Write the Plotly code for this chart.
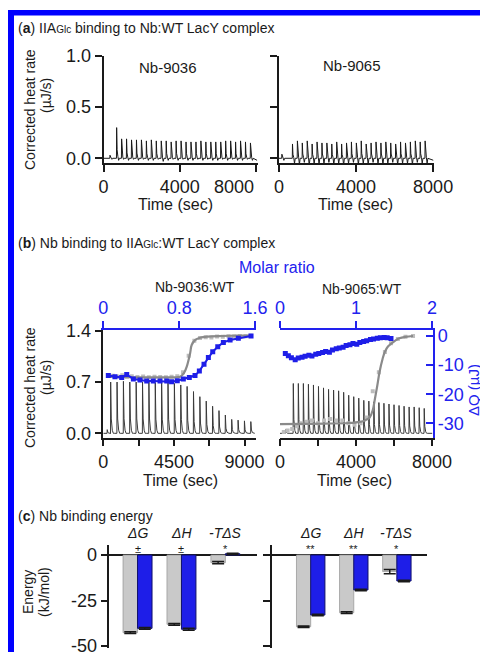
import plotly.graph_objects as go

OFF = 8            # page body margin of the html page
W, H = 488, 652
FONT = "Liberation Sans, Arial, Helvetica, sans-serif"
BLK = "#1a1a1a"
BLUE = "#1e1ee8"
AXBLUE = "#2222ee"
GRAYPT = "#bdbdbd"
GRAYFIT = "#8a8a8a"
TICK = 18

# ---------------- data ----------------
# (a) IIAGlc injections into Nb:WT LacY complex: injection time (s), peak (uJ/s), post-peak dip (uJ/s)
a_l_time = [340, 690, 950, 1210, 1470, 1730, 1990, 2250, 2510, 2770, 3030, 3290, 3550, 3810, 4070,
            4330, 4590, 4850, 5110, 5370, 5630, 5890, 6150, 6410, 6670, 6930, 7190, 7450, 7710]
a_l_peak = [0.03, 0.30, 0.19, 0.19, 0.18, 0.18, 0.18, 0.17, 0.18, 0.17, 0.17, 0.17, 0.16, 0.17, 0.17,
            0.16, 0.16, 0.16, 0.17, 0.16, 0.16, 0.16, 0.16, 0.17, 0.17, 0.16, 0.17, 0.16, 0.15]
a_l_dip = [-0.01, -0.02, -0.01, -0.02, -0.01, -0.02, -0.01, -0.02, -0.02, -0.01, -0.03, -0.02, -0.01, -0.02, -0.01,
           -0.02, -0.02, -0.01, -0.02, -0.01, -0.02, -0.02, -0.01, -0.02, -0.01, -0.02, -0.02, -0.01, -0.02]
a_r_time = [150, 700, 955, 1210, 1465, 1720, 1975, 2230, 2485, 2740, 2995, 3250, 3505, 3760, 4015,
            4270, 4525, 4780, 5035, 5290, 5545, 5800, 6055, 6310, 6565, 6820, 7075, 7330, 7585]
a_r_peak = [0.04, 0.14, 0.17, 0.15, 0.17, 0.14, 0.16, 0.15, 0.15, 0.14, 0.16, 0.14, 0.15, 0.16, 0.15,
            0.17, 0.14, 0.15, 0.16, 0.15, 0.16, 0.15, 0.14, 0.16, 0.15, 0.16, 0.17, 0.16, 0.17]
a_r_dip = [-0.02, -0.05, -0.06, -0.04, -0.07, -0.05, -0.06, -0.05, -0.04, -0.06, -0.05, -0.07, -0.05, -0.04, -0.06,
           -0.05, -0.06, -0.04, -0.05, -0.06, -0.05, -0.04, -0.06, -0.05, -0.05, -0.06, -0.04, -0.05, -0.05]
a_x_ticks = [0, 4000, 8000]
a_x_ticktext_left = ["0", "4000", ""]      # last label is set beside its tick (shifted left) below
a_x_last_label = "8000"
a_x_ticktext_right = ["0", "4000", "8000"]

# (b) Nb injections into IIAGlc:WT LacY complex
b_l_time = [250, 470, 876, 1282, 1688, 2094, 2500, 2906, 3312, 3718, 4124, 4530, 4936, 5342, 5748,
            6154, 6560, 6966, 7372, 7778, 8184, 8590, 8996, 9402]
b_l_peak = [0.05, 0.70, 0.70, 0.71, 0.70, 0.70, 0.70, 0.70, 0.69, 0.69, 0.69, 0.68, 0.66, 0.64, 0.57,
            0.50, 0.44, 0.37, 0.31, 0.25, 0.19, 0.18, 0.17, 0.16]
b_r_time = [300, 700, 965, 1230, 1495, 1760, 2025, 2290, 2555, 2820, 3085, 3350, 3615, 3880, 4145,
            4410, 4675, 4940, 5205, 5470, 5735, 6000, 6265, 6530, 6795, 7060, 7325, 7590]
b_r_peak = [0.05, 0.68, 0.68, 0.68, 0.67, 0.66, 0.64, 0.62, 0.60, 0.59, 0.58, 0.56, 0.52, 0.50, 0.48,
            0.45, 0.44, 0.43, 0.42, 0.41, 0.40, 0.39, 0.38, 0.37, 0.36, 0.36, 0.35, 0.34]

# integrated heats vs molar ratio (Nb-9036:WT)
b_l_mr_blue = [0.053, 0.123, 0.194, 0.247, 0.317, 0.387, 0.458, 0.527, 0.598, 0.669, 0.72, 0.78,
               0.844, 0.907, 0.967, 1.013, 1.062, 1.108, 1.154, 1.207, 1.266, 1.337, 1.424, 1.558]
b_l_dq_blue = [-13.6, -14.0, -14.3, -13.2, -14.8, -15.1, -15.5, -15.5, -15.5, -15.5, -15.7, -15.4,
               -14.8, -14.3, -13.6, -12.0, -9.7, -7.4, -5.4, -3.7, -2.2, -1.4, -0.8, 0.0]
b_l_mr_gray = [0.05, 0.1, 0.15, 0.2, 0.25, 0.3, 0.36, 0.42, 0.48, 0.54, 0.6, 0.66, 0.72, 0.78,
               0.84, 0.9, 0.96, 1.02, 1.08, 1.14, 1.2, 1.26, 1.32, 1.38, 1.44, 1.5, 1.55]
b_l_dq_gray = [-13.4, -13.7, -13.9, -13.5, -14.0, -13.8, -14.1, -13.9, -14.2, -14.0, -14.1, -14.2, -14.0, -13.8,
               -12.5, -6.8, -1.6, -0.7, -0.4, -0.5, -0.2, -0.3, -0.1, -0.2, 0.0, -0.1, 0.1]
b_l_mr_fit = [0.04, 0.2, 0.4, 0.6, 0.75, 0.81, 0.85, 0.88, 0.915, 0.932, 0.967, 1.02, 1.1, 1.25, 1.4, 1.55]
b_l_dq_fit = [-14.0, -14.1, -14.2, -14.2, -14.2, -14.0, -12.8, -10.5, -6.0, -3.1, -1.4, -0.6, -0.2, 0.0, 0.1, 0.1]

# integrated heats vs molar ratio (Nb-9065:WT)
b_r_mr_blue = [0.07, 0.11, 0.15, 0.2, 0.24, 0.29, 0.33, 0.38, 0.42, 0.47, 0.51, 0.56, 0.6, 0.65, 0.69, 0.74,
               0.78, 0.83, 0.87, 0.92, 0.96, 1.01, 1.05, 1.1, 1.14, 1.19, 1.23, 1.28, 1.32, 1.37, 1.41, 1.46]
b_r_dq_blue = [-6.0, -6.8, -7.5, -8.2, -7.6, -7.3, -7.0, -6.6, -6.9, -6.3, -6.0, -5.7, -5.3, -5.6, -4.8, -4.4,
               -4.1, -3.9, -3.3, -3.0, -2.6, -2.8, -2.2, -1.9, -1.6, -1.2, -1.0, -0.8, -0.6, -0.5, -0.6, -0.9]
b_r_mr_gray = [0.05, 0.1, 0.16, 0.22, 0.28, 0.35, 0.42, 0.5, 0.58, 0.66, 0.74, 0.82, 0.9, 0.98, 1.06,
               1.14, 1.22, 1.3, 1.38, 1.46, 1.55, 1.65, 1.75]
b_r_dq_gray = [-33.0, -32.5, -32.0, -31.0, -30.0, -29.5, -29.0, -30.0, -29.0, -28.5, -29.0, -29.0, -30.0, -30.5, -30.0,
               -28.0, -19.0, -12.5, -5.5, -2.5, -1.0, -0.3, 0.0]
b_r_mr_fit = [0.0, 0.3, 0.6, 0.9, 1.05, 1.12, 1.18, 1.22, 1.25, 1.28, 1.31, 1.35, 1.38, 1.42, 1.47, 1.52, 1.57, 1.65, 1.75]
b_r_dq_fit = [-30.3, -30.2, -30.1, -29.9, -29.5, -29.0, -28.0, -25.5, -21.4, -17.0, -12.3, -7.8, -5.4, -3.6, -2.5,
              -1.5, -0.8, -0.3, 0.0]

# (c) binding energies (kJ/mol)
c_terms = ["ΔG", "ΔH", "-TΔS"]
c_term_labels = ["<i>ΔG</i>", "<i>ΔH</i>", "<i>-TΔS</i>"]
c_l_gray = [-42.7, -38.1, -4.2]
c_l_blue = [-40.3, -40.8, 0.7]
c_l_gray_err = [0.5, 0.5, 0.6]
c_l_blue_err = [0.5, 0.5, 0.3]
c_l_sig = ["±", "±", "*"]
c_r_gray = [-39.4, -31.7, -9.1]
c_r_blue = [-33.0, -19.2, -14.3]
c_r_gray_err = [0.4, 0.5, 1.2]
c_r_blue_err = [0.4, 0.4, 0.4]
c_r_sig = ["**", "**", "*"]


# ---------------- helpers ----------------
def X(p):
    return (p - OFF) / W


def Y(p):
    return 1 - (p - OFF) / H


def thermogram(times, peaks, dips=None, t_end=8000.0, end_val=0.0, tail=1.0):
    xs, ys = [0.0], [0.0]
    if dips is None:
        dips = [0.0] * len(times)
    for t, h, d in zip(times, peaks, dips):
        xs += [t - 10, t, t + 30 * tail, t + 80 * tail, t + 130 * tail, t + 180 * tail]
        ys += [0.0, h, 0.28 * h, 0.06 * h, d, 0.0]
    xs.append(t_end)
    ys.append(end_val)
    return xs, ys


def ax(**kw):
    d = dict(showline=True, linecolor=BLK, linewidth=1.5, ticks="outside", ticklen=7, tickwidth=1.5,
             tickcolor=BLK, showgrid=False, zeroline=False, automargin=False,
             tickfont=dict(size=TICK, color=BLK, family=FONT))
    d.update(kw)
    return d


fig = go.Figure()

# ---- panel a ----
xs, ys = thermogram(a_l_time, a_l_peak, a_l_dip, t_end=8060, end_val=-0.02, tail=0.8)
fig.add_trace(go.Scatter(x=xs, y=ys, mode="lines", line=dict(color=BLK, width=1), xaxis="x", yaxis="y"))
xs, ys = thermogram(a_r_time, a_r_peak, a_r_dip, t_end=8020, end_val=-0.02, tail=0.8)
fig.add_trace(go.Scatter(x=xs, y=ys, mode="lines", line=dict(color=BLK, width=1), xaxis="x2", yaxis="y2"))

# ---- panel b ----
xs, ys = thermogram(b_l_time, b_l_peak, t_end=9650, tail=1.3)
fig.add_trace(go.Scatter(x=xs, y=ys, mode="lines", line=dict(color="#3a3a3a", width=1), xaxis="x3", yaxis="y3"))
xs, ys = thermogram(b_r_time, b_r_peak, t_end=8020, tail=1.0)
fig.add_trace(go.Scatter(x=xs, y=ys, mode="lines", line=dict(color="#3a3a3a", width=1), xaxis="x5", yaxis="y5"))

for (mg, dg, mf, df, mb, db, xa, ya) in [
    (b_l_mr_gray, b_l_dq_gray, b_l_mr_fit, b_l_dq_fit, b_l_mr_blue, b_l_dq_blue, "x4", "y4"),
    (b_r_mr_gray, b_r_dq_gray, b_r_mr_fit, b_r_dq_fit, b_r_mr_blue, b_r_dq_blue, "x6", "y6"),
]:
    fig.add_trace(go.Scatter(x=mg, y=dg, mode="markers", marker=dict(symbol="square", size=4, color=GRAYPT),
                             xaxis=xa, yaxis=ya))
    fig.add_trace(go.Scatter(x=mf, y=df, mode="lines", line=dict(color=GRAYFIT, width=2.2, shape="spline"),
                             xaxis=xa, yaxis=ya))
    fig.add_trace(go.Scatter(x=mb, y=db, mode="lines+markers", line=dict(color=BLUE, width=2),
                             marker=dict(symbol="square", size=5, color=BLUE), xaxis=xa, yaxis=ya))

# ---- panel c ----
for (g, b, ge, be, xa, ya) in [(c_l_gray, c_l_blue, c_l_gray_err, c_l_blue_err, "x7", "y7"),
                               (c_r_gray, c_r_blue, c_r_gray_err, c_r_blue_err, "x8", "y8")]:
    fig.add_trace(go.Bar(x=c_terms, y=g, marker=dict(color="#c9c9c9", line=dict(color="#9a9a9a", width=0.8)),
                         error_y=dict(type="data", array=ge, color=BLK, thickness=1.5, width=6),
                         xaxis=xa, yaxis=ya, offsetgroup="g"))
    fig.add_trace(go.Bar(x=c_terms, y=b, marker=dict(color=BLUE, line=dict(color="#10106a", width=1)),
                         error_y=dict(type="data", array=be, color=BLK, thickness=1.5, width=6),
                         xaxis=xa, yaxis=ya, offsetgroup="b"))

# ---------------- axes ----------------
dom_a = [Y(163), Y(56)]
dom_b = [Y(437.5), Y(330)]
dom_c = [Y(648), Y(545)]
heat_rng = [-0.057, 1.41]
dq_rng = [-34.88, 2.06]
c_rng = [-51.1, 5.5]
blue_font = dict(size=TICK, color=AXBLUE, family=FONT)

layout_axes = dict(
    xaxis=ax(domain=[X(103.5), X(257.5)], range=[0, 8080], tickvals=a_x_ticks, ticktext=a_x_ticktext_left,
             anchor="y"),
    yaxis=ax(domain=dom_a, range=[-0.046, 1.0], tickvals=[0, 0.5, 1.0], ticktext=["0.0", "0.5", "1.0"], anchor="x"),
    xaxis2=ax(domain=[X(279), X(433.5)], range=[0, 8020], tickvals=a_x_ticks, ticktext=a_x_ticktext_right,
              anchor="y2"),
    yaxis2=ax(domain=dom_a, range=[-0.046, 1.0], tickvals=[0, 0.5, 1.0], showticklabels=False, anchor="x2"),

    xaxis3=ax(domain=[X(103.3), X(255.5)], range=[0, 9700], tickvals=[0, 2250, 4500, 6750, 9000],
              ticktext=["0", "", "4500", "", "9000"], anchor="y3"),
    yaxis3=ax(domain=dom_b, range=heat_rng, tickvals=[0, 0.7, 1.4], ticktext=["0.0", "0.7", "1.4"], anchor="x3"),
    xaxis4=ax(overlaying="x3", side="top", anchor="y3", range=[0, 1.605], tickvals=[0, 0.8, 1.6],
              ticktext=["0", "0.8", "1.6"], linecolor=AXBLUE, tickcolor=AXBLUE, tickfont=blue_font),
    yaxis4=dict(overlaying="y3", anchor="x3", range=dq_rng, visible=False),

    xaxis5=ax(domain=[X(280), X(432.5)], range=[0, 8026], tickvals=[0, 2000, 4000, 6000, 8000],
              ticktext=["0", "", "4000", "", "8000"], anchor="y5"),
    yaxis5=dict(domain=dom_b, range=heat_rng, visible=False, anchor="x5"),
    xaxis6=ax(overlaying="x5", side="top", anchor="y5", range=[0, 2.006], tickvals=[0, 1, 2],
              ticktext=["0", "1", "2"], linecolor=AXBLUE, tickcolor=AXBLUE, tickfont=blue_font),
    yaxis6=ax(overlaying="y5", side="right", anchor="x5", range=dq_rng, tickvals=[0, -10, -20, -30],
              ticktext=["0", "-10", "-20", "-30"], ticks="inside", linecolor=AXBLUE, tickcolor=AXBLUE,
              tickfont=blue_font),

    xaxis7=dict(domain=[X(109.3), X(257)], range=[-0.643, 2.72], visible=False, anchor="y7", type="category"),
    yaxis7=ax(domain=dom_c, range=c_rng, tickvals=[0, -25, -50], ticktext=["0", "-25", "-50"], anchor="x7",
              zeroline=True, zerolinecolor=BLK, zerolinewidth=1.5),
    xaxis8=dict(domain=[X(271.5), X(427)], range=[-0.91, 2.70], visible=False, anchor="y8", type="category"),
    yaxis8=ax(domain=dom_c, range=c_rng, tickvals=[0, -25, -50], showticklabels=False, anchor="x8",
              zeroline=True, zerolinecolor=BLK, zerolinewidth=1.5),
)

# ---------------- annotations ----------------
ann = []


def txt(x, y, s, size=15, color=BLK, angle=0, xanchor="center"):
    ann.append(dict(x=X(x), y=Y(y), xref="paper", yref="paper", text=s, showarrow=False, textangle=angle,
                    xanchor=xanchor, yanchor="middle", font=dict(size=size, color=color, family=FONT)))


sm = "<span style='font-size:10px'>Glc</span>"
txt(16, 28, "(<b>a</b>) IIA" + sm + " binding to Nb:WT LacY complex", size=14, xanchor="left")
txt(16, 243, "(<b>b</b>) Nb binding to IIA" + sm + ":WT LacY complex", size=14, xanchor="left")
txt(16, 516, "(<b>c</b>) Nb binding energy", size=14, xanchor="left")

txt(30, 110, "Corrected heat rate", size=14, angle=-90)
txt(46, 96, "(µJ/s)", size=14, angle=-90)
txt(30, 388, "Corrected heat rate", size=14, angle=-90)
txt(46, 378, "(µJ/s)", size=14, angle=-90)
txt(28, 592, "Energy", size=14, angle=-90)
txt(44, 592, "(kJ/mol)", size=14, angle=-90)

# last tick label of panel (a) left, drawn just left of its tick as in the original
ann.append(dict(x=8000, y=Y(187), xref="x", yref="paper", text=a_x_last_label, showarrow=False,
                xanchor="right", yanchor="middle", font=dict(size=TICK, color=BLK, family=FONT)))

txt(175, 205, "Time (sec)", size=16)
txt(355, 205, "Time (sec)", size=16)
txt(180, 480, "Time (sec)", size=16)
txt(354, 480, "Time (sec)", size=16)

txt(168, 67, "Nb-9036", size=15)
txt(352, 65, "Nb-9065", size=15)
txt(277, 268, "Molar ratio", size=16, color=AXBLUE)
txt(195, 287, "Nb-9036:WT", size=14)
txt(362, 289, "Nb-9065:WT", size=14)
txt(474, 390, "ΔQ (µJ)", size=15, color=AXBLUE, angle=-90)

for xa, sig in [("x7", c_l_sig), ("x8", c_r_sig)]:
    for term, lab, s in zip(c_terms, c_term_labels, sig):
        ann.append(dict(x=term, y=Y(533), xref=xa, yref="paper", text=lab, showarrow=False,
                        yanchor="middle", font=dict(size=14, color=BLK, family=FONT)))
        ann.append(dict(x=term, y=Y(549), xref=xa, yref="paper", text=s, showarrow=False,
                        yanchor="middle", font=dict(size=11, color=BLK, family=FONT)))

shapes = [
    dict(type="rect", xref="paper", yref="paper", x0=X(8), x1=1.0, y0=Y(15.5), y1=Y(10),
         fillcolor="#0000ff", line=dict(width=0)),
    dict(type="rect", xref="paper", yref="paper", x0=X(8), x1=X(14), y0=0.0, y1=Y(10),
         fillcolor="#0000ff", line=dict(width=0)),
]

fig.update_layout(
    width=W, height=H, margin=dict(l=0, r=0, t=0, b=0, autoexpand=False),
    paper_bgcolor="white", plot_bgcolor="white", showlegend=False,
    font=dict(family=FONT, color=BLK),
    barmode="group", bargap=0.34, bargroupgap=0.0,
    annotations=ann, shapes=shapes,
    **layout_axes,
)

fig.write_html("out.html")
